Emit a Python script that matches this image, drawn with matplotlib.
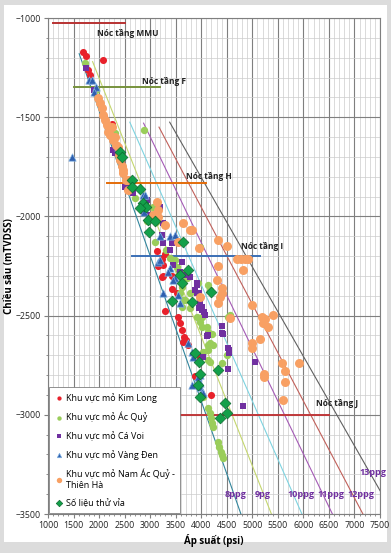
import matplotlib.pyplot as plt
from matplotlib.patches import Rectangle
from matplotlib.ticker import MultipleLocator

plt.rcParams['font.family'] = ['Open Sans', 'DejaVu Sans']

# --- data: (pressure psi, depth m) ---
kim_long_p = [1680, 1750, 2080, 1780, 1830, 2250, 3130, 3230, 3250, 3430, 3520, 3290,
              3550, 3590, 3620, 3660, 3700, 3745, 3650, 3970, 3880, 4190, 3160, 3300,
              3420, 3230, 3250]
kim_long_d = [-1171, -1192, -1212, -1262, -1287, -1534, -2175, -2216, -2300, -2366, -2386, -2475,
              -2507, -2538, -2575, -2610, -2625, -2648, -2635, -2710, -2805, -2900, -2250, -2190,
              -2300, -2305, -2245]

ac_quy_p = [1720, 1930, 2310, 2880, 2350, 2570, 2700, 3060, 2930, 3120, 3250, 3090, 3320,
            3390, 3485, 3980, 3520, 3620, 3720, 3940, 4130, 4170, 3620, 3680, 3580, 3650,
            3780, 3620, 3780, 3920, 4010, 3970, 4110, 4130, 4170, 4230, 4130, 4030, 4130,
            4170, 4520, 4560, 4500, 4400, 4010, 4210, 4130, 4030, 4130, 4170, 4190, 4210,
            4230, 4330, 4350, 4390, 4410, 4430]
ac_quy_d = [-1227, -1363, -1580, -1565, -1680, -1868, -1908, -1953, -2025, -2030, -2035, -2129, -2170,
            -2210, -2220, -2155, -2255, -2285, -2310, -2335, -2345, -2371, -2355, -2420, -2386, -2420,
            -2386, -2456, -2461, -2507, -2507, -2532, -2557, -2582, -2638, -2648, -2673, -2683, -2724,
            -2734, -2507, -2497, -2699, -2737, -2557, -2593, -2648, -2910, -2966, -2991, -3016, -3041,
            -3061, -3137, -3162, -3187, -3202, -3217]

ca_voi_p = [1750, 1910, 2120, 2280, 2310, 2450, 2510, 2550, 2670, 2880, 2980, 2930, 3190,
            3230, 3250, 3430, 3390, 3250, 3450, 3580, 3650, 3620, 3740, 3780, 3910, 3920,
            3880, 3920, 3960, 3980, 3980, 4010, 3960, 4010, 4050, 4070, 4400, 4400, 4430,
            4110, 4130, 4520, 4540, 4540, 4040, 4520, 5050, 4820]
ca_voi_d = [-1252, -1363, -1504, -1665, -1680, -1731, -1852, -1833, -1880, -1983, -1993, -1917, -1953,
            -2094, -2135, -2135, -2170, -2035, -2245, -2280, -2296, -2230, -2296, -2305, -2335, -2345,
            -2371, -2386, -2386, -2421, -2436, -2456, -2461, -2471, -2482, -2497, -2552, -2588, -2593,
            -2603, -2598, -2663, -2673, -2688, -2708, -2769, -2734, -2956]

vang_den_p = [1470, 1810, 1860, 1940, 1910, 2370, 2860, 2900, 2880, 3190, 3390, 3490, 3150,
              3190, 3390, 3350, 3490, 3450, 3550, 3260, 3580, 3750, 3820, 3840, 3980, 3940,
              3810, 3980, 3980, 4010, 4040]
vang_den_d = [-1702, -1313, -1313, -1348, -1373, -1650, -1893, -1893, -1978, -2099, -2099, -2094, -2230,
              -2220, -2260, -2280, -2310, -2320, -2396, -2386, -2436, -2638, -2683, -2708, -2800, -2809,
              -2850, -2840, -2860, -2885, -2891]

nam_ac_quy_p = [1980, 2020, 2050, 2080, 2120, 2150, 2180, 2210, 2250, 2280, 2310, 2330, 2370,
                2390, 2410, 2440, 2470, 2470, 2530, 2570, 2570, 3130, 3160, 3060, 3150, 3290,
                3645, 3780, 3810, 3545, 3960, 4330, 4500, 4700, 4780, 4850, 4920, 4820, 4330,
                4310, 4400, 4410, 4370, 4330, 3980, 4990, 5190, 5250, 5400, 5200, 5300, 4560,
                5150, 4990, 4990, 5580, 5910, 5220, 5640, 5220, 5640, 5600]
nam_ac_quy_d = [-1403, -1430, -1454, -1489, -1515, -1540, -1575, -1590, -1550, -1615, -1600, -1640, -1650,
                -1690, -1716, -1745, -1766, -1782, -1817, -1817, -1868, -1928, -1968, -1993, -2003, -2043,
                -2033, -2068, -2068, -2129, -2160, -2119, -2149, -2216, -2216, -2216, -2216, -2270, -2250,
                -2320, -2361, -2386, -2405, -2436, -2405, -2446, -2507, -2517, -2497, -2538, -2557, -2512,
                -2618, -2638, -2663, -2739, -2739, -2794, -2779, -2809, -2835, -2925]

thu_via_p = [2400, 2440, 2640, 2800, 2640, 2880, 2860, 2920, 2800, 2960, 3090, 2980, 3650,
             3740, 3590, 3620, 4200, 3430, 3820, 3880, 3960, 3980, 3940, 4330, 4470, 4500,
             4370, 3980]
thu_via_d = [-1675, -1700, -1817, -1862, -1853, -1948, -1933, -1953, -1958, -2018, -2023, -2079, -2130,
             -2270, -2296, -2335, -2381, -2426, -2431, -2688, -2734, -2794, -2850, -2774, -2941, -2991,
             -3016, -2910]

# mud weight lines (ppg) and the depth where each line starts
ppg_values = [8, 9, 10, 11, 12, 13]
ppg_start = [-1180, -1220, -1525, -1530, -1550, -1525]
ppg_colors = ['#31859c', '#c4d66e', '#7dd3e0', '#a45ab5', '#c0605a', '#606060']
ppg_labels = ['8ppg', '9pg', '10ppg', '11ppg', '12ppg', '13ppg']
ppg_label_pos = [(4460, -3400), (5050, -3400), (5680, -3400), (6280, -3400), (6870, -3400), (7100, -3293)]

# formation tops: name, depth, x-range, colour, label position
tops_name = ['Nóc tầng MMU', 'Nóc tầng F', 'Nóc tầng H', 'Nóc tầng I', 'Nóc tầng J']
tops_depth = [-1025, -1350, -1830, -2200, -3000]
tops_x0 = [1100, 1500, 2150, 2650, 1100]
tops_x1 = [2500, 3200, 4100, 5150, 6500]
tops_color = ['#b83232', '#77933c', '#e46c0a', '#3a6fb5', '#c0393b']
tops_label_pos = [(1960, -1076), (2840, -1318), (3700, -1800), (4780, -2150), (6245, -2945)]

fig = plt.figure(figsize=(3.91, 5.53), dpi=100)
fig.patch.set_facecolor('#dcdcdc')
fig.patches.append(Rectangle((4 / 391, 11 / 553), 383 / 391, 537 / 553, transform=fig.transFigure,
                             facecolor='white', edgecolor='none', zorder=-1))

ax = fig.add_axes([48 / 391, 1 - 514 / 553, 332 / 391, 496 / 553])
ax.set_zorder(2)
ax.set_xlim(1000, 7500)
ax.set_ylim(-3500, -1000)
ax.xaxis.set_major_locator(MultipleLocator(500))
ax.xaxis.set_minor_locator(MultipleLocator(100))
ax.yaxis.set_major_locator(MultipleLocator(500))
ax.yaxis.set_minor_locator(MultipleLocator(100))
ax.grid(True, which='major', color='#7f7f7f', lw=0.8)
ax.grid(True, which='minor', color='#cccccc', lw=0.5)
ax.set_axisbelow(True)
for s in ax.spines.values():
    s.set_color('#7f7f7f')
    s.set_linewidth(0.8)
ax.tick_params(which='major', labelsize=6.3, length=3, color='#7f7f7f', labelcolor='#222222', pad=2)
ax.tick_params(which='minor', length=1.5, color='#7f7f7f')

# ppg lines
for ppg, d0, c in zip(ppg_values, ppg_start, ppg_colors):
    grad = 0.052 * 3.28084 * ppg
    ax.plot([-d0 * grad, 3500 * grad], [d0, -3500], color=c, lw=0.8, zorder=2)
for lab, (x, y) in zip(ppg_labels, ppg_label_pos):
    ax.text(x, y, lab, color='#7030a0', fontsize=6.5, fontweight='bold', va='center', ha='left',
            clip_on=False, zorder=6)

# formation tops
for name, d, x0, x1, c, (tx, ty) in zip(tops_name, tops_depth, tops_x0, tops_x1, tops_color, tops_label_pos):
    ax.plot([x0, x1], [d, d], color=c, lw=1.4, zorder=2)
    ax.text(tx, ty, name, fontsize=6, fontweight='bold', color='#222222', va='center', ha='left', zorder=6)

ax.scatter(kim_long_p, kim_long_d, s=26, marker='o', color='#e8212b', lw=0, zorder=3,
           label='Khu vực mỏ Kim Long')
ax.scatter(ac_quy_p, ac_quy_d, s=28, marker='o', color='#9acd5a', lw=0, zorder=3,
           label='Khu vực mỏ Ác Quỷ')
ax.scatter(ca_voi_p, ca_voi_d, s=20, marker='s', color='#7030a0', lw=0, zorder=3,
           label='Khu vực mỏ Cá Voi')
ax.scatter(vang_den_p, vang_den_d, s=28, marker='^', color='#2f5fae', edgecolor='#7fb0e0', lw=0.5, zorder=3,
           label='Khu vực mỏ Vàng Đen')
ax.scatter(nam_ac_quy_p, nam_ac_quy_d, s=42, marker='o', color='#f8a063', lw=0, zorder=3,
           label='Khu vực mỏ Nam Ác Quỷ -\nThiên Hà')
ax.scatter(thu_via_p, thu_via_d, s=30, marker='D', color='#13a04a', edgecolor='#0d6b30', lw=0.5, zorder=4,
           label='Số liệu thử vỉa')

leg = ax.legend(loc='lower left', bbox_to_anchor=(0.0, 0.0), fontsize=6.5, frameon=True, fancybox=False,
                edgecolor='#7f7f7f', framealpha=1, markerscale=0.6, handletextpad=0.3, borderpad=0.6,
                labelspacing=1.0, handlelength=1.0, borderaxespad=0.1)
leg.set_zorder(10)
leg.get_frame().set_linewidth(0.6)

ax.set_xlabel('Áp suất (psi)', fontsize=7, fontweight='bold', labelpad=3)
ax.set_ylabel('Chiều sâu (mTVDSS)', fontsize=7, fontweight='bold')
ax.yaxis.set_label_coords(-0.1, 0.5)

fig.savefig('out.png', dpi=100)
